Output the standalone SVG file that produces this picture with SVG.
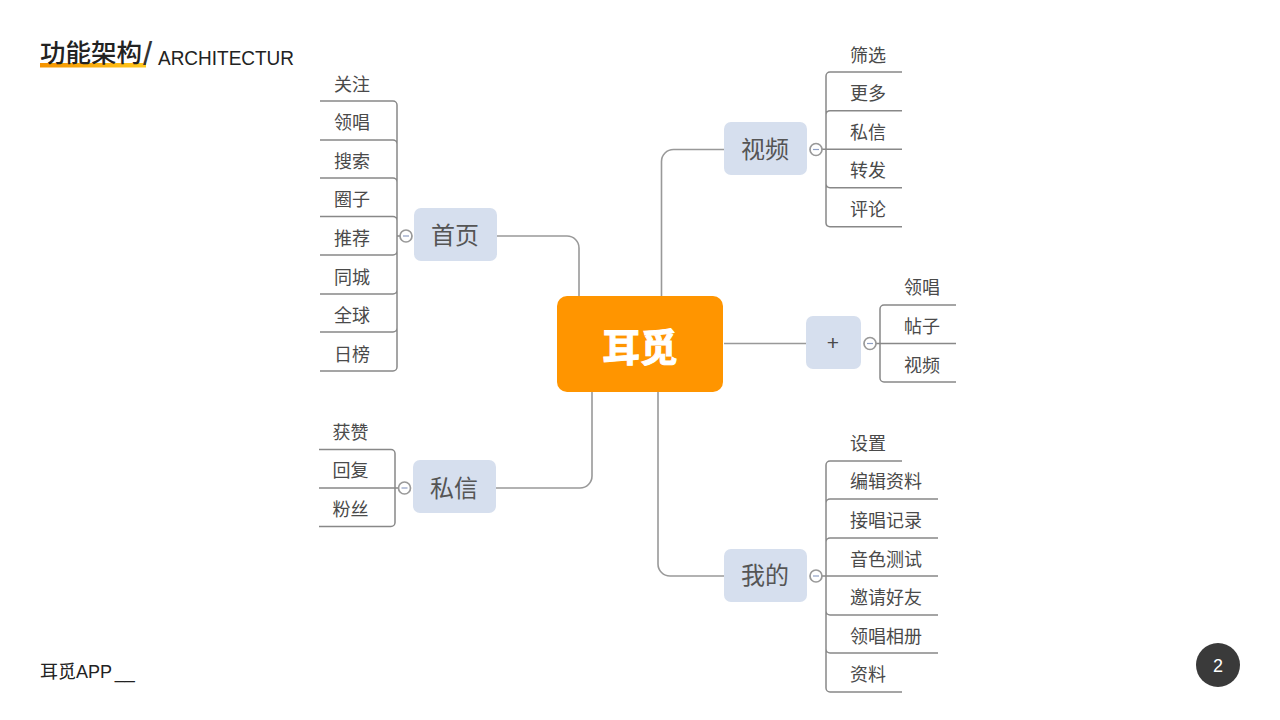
<svg xmlns="http://www.w3.org/2000/svg" width="1280" height="720" viewBox="0 0 1280 720">
<style>
text{font-family:"Liberation Sans","Noto Sans CJK SC",sans-serif;fill:#4a4a4a}
.leaf{font-size:18px;text-anchor:middle}
.leafs{font-size:18px}
.main{font-size:24px;text-anchor:middle;fill:#555}
.box{fill:#d6dfee}
.ln{fill:none;stroke:#999;stroke-width:1.6}
.tr{fill:none;stroke:#888;stroke-width:1.5}
.tog{fill:#fff;stroke:#999;stroke-width:1.7}
.dash{stroke:#8f9fc4;stroke-width:1.2}
</style>
<defs><linearGradient id="ug" x1="0" x2="1" y1="0" y2="0"><stop offset="0" stop-color="#f59300"/><stop offset="1" stop-color="#ffc81e"/></linearGradient></defs>
<rect width="1280" height="720" fill="#fff"/>

<g id="title">
<rect x="40" y="63" width="106" height="4.500" fill="url(#ug)"/>
<text x="40" y="62" font-size="25.500" font-weight="500" style="font-family:'Noto Sans CJK SC',sans-serif;fill:#222">功能架构</text>
<text x="143" y="65" font-size="33" style="fill:#333">/</text>
<text x="158" y="65" font-size="20" textLength="136" lengthAdjust="spacingAndGlyphs" style="fill:#222">ARCHITECTUR</text>
</g>

<g id="connectors">
<path class="ln" d="M497 236H567a12 12 0 0 1 12 12V296"/>
<path class="ln" d="M661.500 296V161.500a12 12 0 0 1 12-12H724"/>
<path class="ln" d="M724 343.500H806"/>
<path class="ln" d="M658 392V564a12 12 0 0 0 12 12H724"/>
<path class="ln" d="M592 392V476a12 12 0 0 1-12 12H496"/>

<path class="tr" d="M320 101H393a4 4 0 0 1 4 4V144M320 140H393a4 4 0 0 1 4 4V182M320 178H393a4 4 0 0 1 4 4V221M320 216.500H393a4 4 0 0 1 4 4V251a4 4 0 0 1-4 4H320M397 251V290a4 4 0 0 1-4 4H320M397 290V328a4 4 0 0 1-4 4H320M397 328V367a4 4 0 0 1-4 4H320M397 236H400"/>
<path class="tr" d="M902 72H830a4 4 0 0 0-4 4V115M902 110.700H830a4 4 0 0 0-4 4V184M902 149.300H812M826 184a4 4 0 0 0 4 3.700H902M826 184V223a4 4 0 0 0 4 3.700H902"/>
<path class="tr" d="M956 305H884a4 4 0 0 0-4 4V378a4 4 0 0 0 4 4H956M956 343.500H864"/>
<path class="tr" d="M902 461H830a4 4 0 0 0-4 4V503M938 499H830a4 4 0 0 0-4 4V542M938 538H830a4 4 0 0 0-4 4V611a4 4 0 0 0 4 4H938M938 576H812M826 611V649a4 4 0 0 0 4 4H938M826 649V688a4 4 0 0 0 4 4H902"/>
<path class="tr" d="M319 449.500H391a4 4 0 0 1 4 4V522.500a4 4 0 0 1-4 4H319M319 488H399"/>
</g>

<g id="center"><rect x="557" y="296" width="166" height="96" rx="10" fill="#ff9500"/>
<text x="640" y="361" font-size="37.500" text-anchor="middle" font-weight="700" style="fill:#fff;stroke:#fff;stroke-width:1">耳觅</text></g>

<g id="home"><rect class="box" x="414" y="208" width="83" height="53" rx="7"/><text class="main" x="455" y="244">首页</text>
<circle class="tog" cx="406" cy="236" r="6"/><path class="dash" d="M403 236H409"/></g>
<g id="home-leaves">
<text class="leaf" x="352" y="91">关注</text><text class="leaf" x="352" y="129">领唱</text><text class="leaf" x="352" y="168">搜索</text><text class="leaf" x="352" y="206">圈子</text><text class="leaf" x="352" y="245">推荐</text><text class="leaf" x="352" y="284">同城</text><text class="leaf" x="352" y="322">全球</text><text class="leaf" x="352" y="361">日榜</text>
</g>

<g id="video"><rect class="box" x="724" y="122" width="83" height="53" rx="7"/><text class="main" x="765" y="158">视频</text>
<circle class="tog" cx="816" cy="149.500" r="6"/><path class="dash" d="M813 149.500H819"/></g>
<g id="video-leaves">
<text class="leaf" x="868" y="62">筛选</text><text class="leaf" x="868" y="100">更多</text><text class="leaf" x="868" y="139">私信</text><text class="leaf" x="868" y="177">转发</text><text class="leaf" x="868" y="216">评论</text>
</g>

<g id="plus"><rect class="box" x="806" y="316" width="55" height="53" rx="7"/><text x="833" y="350" font-size="21" text-anchor="middle">+</text>
<circle class="tog" cx="870" cy="343.500" r="6"/><path class="dash" d="M867 343.500H873"/></g>
<g id="plus-leaves">
<text class="leaf" x="922" y="294">领唱</text><text class="leaf" x="922" y="333">帖子</text><text class="leaf" x="922" y="372">视频</text>
</g>

<g id="mine"><rect class="box" x="724" y="549" width="83" height="53" rx="7"/><text class="main" x="765" y="584">我的</text>
<circle class="tog" cx="816" cy="576" r="6"/><path class="dash" d="M813 576H819"/></g>
<g id="mine-leaves">
<text class="leafs" x="850" y="450">设置</text><text class="leafs" x="850" y="488">编辑资料</text><text class="leafs" x="850" y="527">接唱记录</text><text class="leafs" x="850" y="566">音色测试</text><text class="leafs" x="850" y="604">邀请好友</text><text class="leafs" x="850" y="643">领唱相册</text><text class="leafs" x="850" y="681">资料</text>
</g>

<g id="msg"><rect class="box" x="413" y="460" width="83" height="53" rx="7"/><text class="main" x="454" y="497">私信</text>
<circle class="tog" cx="404.500" cy="488" r="6"/><path class="dash" d="M401.500 488H407.500"/></g>
<g id="msg-leaves">
<text class="leaf" x="350.500" y="439">获赞</text><text class="leaf" x="350.500" y="477">回复</text><text class="leaf" x="350.500" y="516">粉丝</text>
</g>

<g id="footer"><text x="40" y="678" font-size="18" style="fill:#222;word-spacing:-2px">耳觅APP __</text></g>
<g id="page"><circle cx="1218" cy="665" r="22" fill="#3a3a3a"/><text x="1218" y="671.500" font-size="18" text-anchor="middle" style="fill:#fff">2</text></g>
</svg>
